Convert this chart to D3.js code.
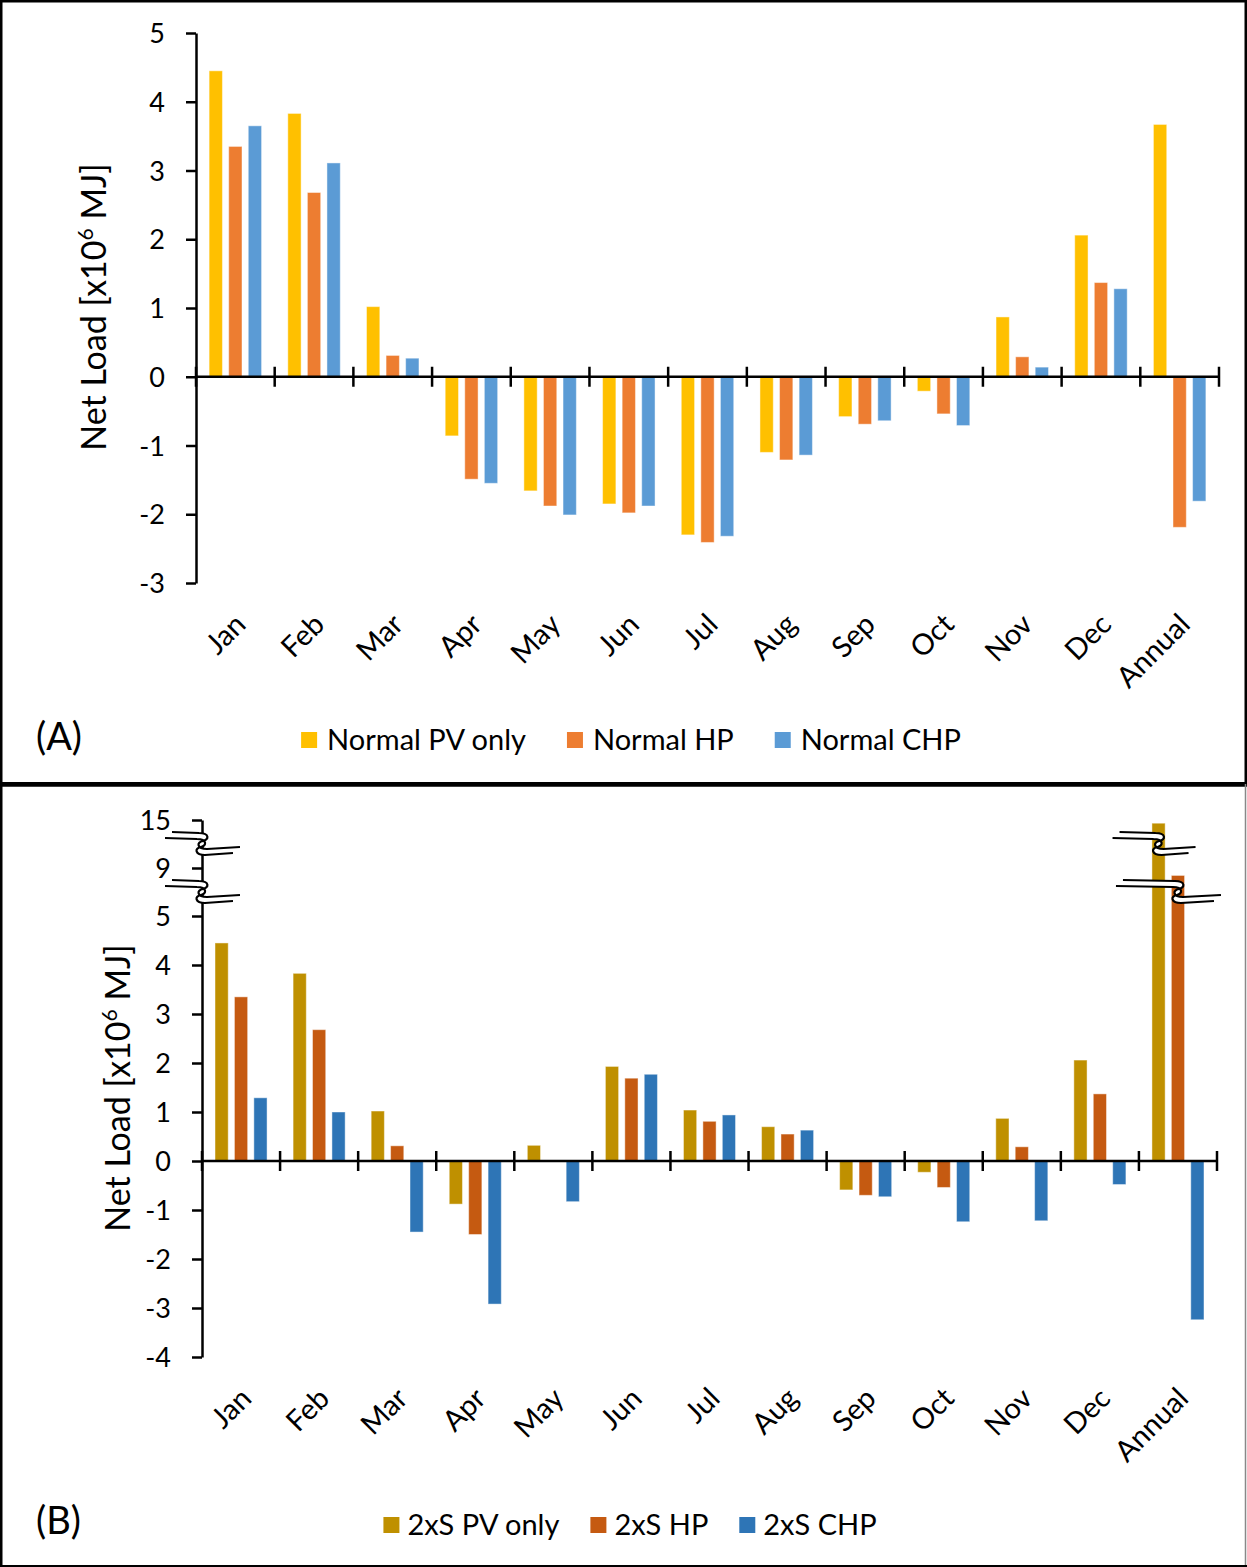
<!DOCTYPE html>
<html>
<head>
<meta charset="utf-8">
<script src="https://cdn.jsdelivr.net/npm/d3@7"></script>
<style>
  html, body { margin: 0; padding: 0; background: #fff; }
  svg { display: block; }
  text { font-family: Lato, "Open Sans", sans-serif; fill: #000; }
</style>
</head>
<body>
<svg id="chart" width="1247" height="1567"></svg>
<script>
// Categories
const months = ["Jan", "Feb", "Mar", "Apr", "May", "Jun", "Jul", "Aug", "Sep", "Oct", "Nov", "Dec", "Annual"];

// Panel A series (x10^6 MJ)
const seriesA = ["Normal PV only", "Normal HP", "Normal CHP"];
const normalPV  = [4.45, 3.83, 1.02, -0.86, -1.66, -1.85, -2.30, -1.10, -0.58, -0.21, 0.87, 2.06, 3.67];
const normalHP  = [3.35, 2.68, 0.31, -1.49, -1.88, -1.98, -2.41, -1.21, -0.69, -0.54, 0.29, 1.37, -2.19];
const normalCHP = [3.65, 3.11, 0.27, -1.55, -2.01, -1.88, -2.32, -1.14, -0.64, -0.71, 0.14, 1.28, -1.81];
const colorsA = ["#FFC000", "#ED7D31", "#5B9BD5"];

// Panel B series (x10^6 MJ)
const seriesB = ["2xS PV only", "2xS HP", "2xS CHP"];
const twoxPV  = [4.45, 3.83, 1.02, -0.88, 0.32, 1.93, 1.04, 0.70, -0.59, -0.23, 0.87, 2.06, 14.6];
const twoxHP  = [3.35, 2.68, 0.31, -1.50, 0.00, 1.69, 0.81, 0.55, -0.70, -0.54, 0.29, 1.37, 8.38];
const twoxCHP = [1.29, 1.00, -1.45, -2.92, -0.83, 1.77, 0.94, 0.63, -0.73, -1.24, -1.22, -0.48, -3.24];
const colorsB = ["#BF9000", "#C55A11", "#2E75B6"];

// Tick labels
const ticksA = [-3, -2, -1, 0, 1, 2, 3, 4, 5];
const ticksB = [-4, -3, -2, -1, 0, 1, 2, 3, 4, 5, 9, 15];
// Values where the panel B value axis is broken
const axisBreaksB = [12, 7];

const svg = d3.select("#chart");

// Frames
svg.append("rect").attr("x", 1.25).attr("y", 1.25).attr("width", 1244.5).attr("height", 782)
  .attr("fill", "none").attr("stroke", "#000").attr("stroke-width", 2.5);
svg.append("line").attr("x1", 0).attr("x2", 1247).attr("y1", 784.5).attr("y2", 784.5)
  .attr("stroke", "#000").attr("stroke-width", 4.5);
svg.append("line").attr("x1", 1.25).attr("x2", 1.25).attr("y1", 784).attr("y2", 1567)
  .attr("stroke", "#000").attr("stroke-width", 2.5);
svg.append("line").attr("x1", 1245.5).attr("x2", 1245.5).attr("y1", 784).attr("y2", 1567)
  .attr("stroke", "#888").attr("stroke-width", 1.5);
svg.append("line").attr("x1", 0).attr("x2", 1247).attr("y1", 1566).attr("y2", 1566)
  .attr("stroke", "#000").attr("stroke-width", 2);

// Break symbol: two parallel wavy strokes with white fill between them
function breakMark(g, cx, cy, left, right) {
  const up = `M${-left},-9 L-3,-8 C8,-8 7,-1 1,0 C-6,1 -5,8 5,8 L${right},6`;
  const loRev = `L${right - 7},12 L3,14 C-7,14 -8,7 -1,6 C5,5 5,-2 -5,-2 L${-left - 7},-3 Z`;
  const lo = `M${-left - 7},-3 L-5,-2 C5,-2 5,5 -1,6 C-8,7 -7,14 3,14 L${right - 7},12`;
  const b = g.append("g").attr("transform", `translate(${cx},${cy - 3})`);
  b.append("path").attr("d", up + " " + loRev).attr("fill", "#fff").attr("stroke", "none");
  b.append("path").attr("d", up).attr("fill", "none").attr("stroke", "#000").attr("stroke-width", 2.2);
  b.append("path").attr("d", lo).attr("fill", "none").attr("stroke", "#000").attr("stroke-width", 2.2);
}

function drawPanel(cfg) {
  const g = svg.append("g");
  const x0 = d3.scaleBand().domain(months).range(cfg.xRange).paddingInner(0).paddingOuter(0);
  const x1 = d3.scaleBand().domain([0, 1, 2]).range([0, x0.bandwidth()])
    .paddingInner(0.32).paddingOuter(0.67);
  const y = d3.scaleLinear().domain(cfg.yDomain).range(cfg.yRange);
  const data = cfg.values;

  // Bars
  data.forEach((vals, si) => {
    g.append("g").selectAll("rect").data(vals).join("rect")
      .attr("x", (d, i) => x0(months[i]) + x1(si))
      .attr("width", x1.bandwidth())
      .attr("y", d => y(Math.max(0, d)))
      .attr("height", d => Math.abs(y(d) - y(0)))
      .attr("fill", cfg.colors[si])
      .attr("stroke", "#fff").attr("stroke-opacity", 0.45).attr("stroke-width", 1);
  });

  // Value axis
  const yAxis = g.append("g").attr("transform", `translate(${cfg.xRange[0]},0)`)
    .call(d3.axisLeft(y).tickValues(cfg.ticks).tickSizeOuter(0).tickSizeInner(10).tickPadding(21)
      .tickFormat(d => String(d)));
  yAxis.select(".domain").attr("stroke-width", 2.5);
  yAxis.selectAll(".tick line").attr("stroke-width", 2.5);
  yAxis.selectAll(".tick text").attr("font-size", 27).attr("font-family", "Lato").attr("dy", "0.36em");

  // Category axis at zero with boundary cross ticks
  const y0 = y(0);
  g.append("line").attr("x1", cfg.xRange[0]).attr("x2", cfg.xRange[1])
    .attr("y1", y0).attr("y2", y0).attr("stroke", "#000").attr("stroke-width", 2.5);
  const bounds = months.map(m => x0(m)).concat([cfg.xRange[1]]);
  g.append("g").selectAll("line").data(bounds).join("line")
    .attr("x1", d => d).attr("x2", d => d)
    .attr("y1", y0 - 10).attr("y2", y0 + 10)
    .attr("stroke", "#000").attr("stroke-width", 2.5);

  // Category labels below the plot
  const yBottom = y(cfg.yDomain[0]);
  g.append("g").selectAll("text").data(months).join("text")
    .attr("transform", d => `translate(${x0(d) + x0.bandwidth() / 2 + 5},${yBottom + 36}) rotate(-45)`)
    .attr("text-anchor", "end").attr("dy", "0.35em")
    .attr("font-size", 29)
    .text(d => d);

  // Axis title
  const t = g.append("text")
    .attr("transform", `translate(${cfg.titleX},${cfg.titleY}) rotate(-90)`)
    .attr("text-anchor", "middle").attr("font-size", 34);
  t.append("tspan").text("Net Load [x10");
  t.append("tspan").attr("font-size", 21).attr("dy", -13).text("6");
  t.append("tspan").attr("dy", 13).text(" MJ]");

  // Panel letter
  g.append("text").attr("x", 36).attr("y", cfg.letterY).attr("font-size", 38).text(cfg.letter);

  // Legend
  const lg = g.append("g");
  let cx = 0;
  cfg.series.forEach((s, i) => {
    const it = lg.append("g").attr("transform", `translate(${cx},0)`);
    it.append("rect").attr("x", 0).attr("y", -8).attr("width", 16).attr("height", 16).attr("fill", cfg.colors[i]);
    const tx = it.append("text").attr("x", cfg.legendTextX).attr("dy", "0.36em").attr("font-size", 29).text(s);
    cx += cfg.legendTextX + tx.node().getComputedTextLength() + cfg.legendGap;
  });
  const total = cx - cfg.legendGap;
  lg.attr("transform", `translate(${cfg.legendCX - total / 2},${cfg.legendY})`);

  return { g, x0, x1, y };
}

// Panel A
drawPanel({
  values: [normalPV, normalHP, normalCHP], series: seriesA, colors: colorsA,
  xRange: [196, 1219], yDomain: [-3, 5], yRange: [583, 33], ticks: ticksA,
  titleX: 106, titleY: 307, letter: "(A)", letterY: 750,
  legendCX: 631, legendY: 740, legendTextX: 26, legendGap: 41
});

// Panel B: piecewise scale compresses the broken ranges 5–9 and 9–15
const pB = drawPanel({
  values: [twoxPV, twoxHP, twoxCHP], series: seriesB, colors: colorsB,
  xRange: [202, 1217], yDomain: [-4, 5, 9, 15], yRange: [1357, 916, 868, 820], ticks: ticksB,
  titleX: 130, titleY: 1088, letter: "(B)", letterY: 1534,
  legendCX: 630, legendY: 1525, legendTextX: 24, legendGap: 31
});

// Breaks on the value axis
axisBreaksB.forEach(v => breakMark(pB.g, 202, pB.y(v), 30, 38));
// Breaks across the tall Annual bars
const annualX = pB.x0("Annual");
breakMark(pB.g, annualX + pB.x1(0) + pB.x1.bandwidth() / 2, pB.y(axisBreaksB[0]), 39, 37);
breakMark(pB.g, annualX + pB.x1(1) + pB.x1.bandwidth() / 2, pB.y(axisBreaksB[1]), 55, 43);
</script>
</body>
</html>
